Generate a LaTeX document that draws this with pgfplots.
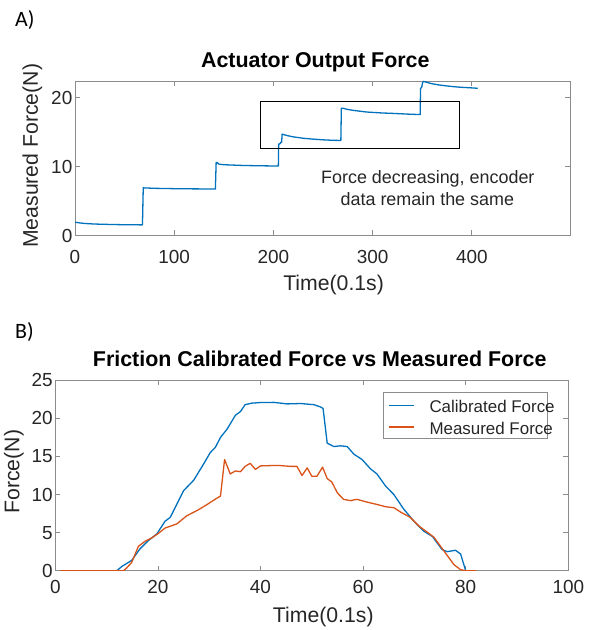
\documentclass[border=0pt]{standalone}
\usepackage{fontspec}
\setmainfont{Liberation Sans}
\newfontfamily\carlito{Carlito}
\usepackage{pgfplots}
\pgfplotsset{compat=1.18}
\definecolor{mblue}{rgb}{0,0.447,0.741}
\definecolor{morange}{rgb}{0.85,0.325,0.098}
\definecolor{axgray}{gray}{0.55}
\definecolor{txt}{gray}{0.15}
\begin{document}
\begin{tikzpicture}
\path[use as bounding box] (0,0) rectangle (590bp,630bp);
\pgfplotsset{
  common/.style={
    scale only axis,
    axis line style={axgray, line width=0.8bp},
    tick align=inside,
    xtick pos=both, ytick pos=both,
    major tick length=5bp,
    every tick/.style={axgray, line width=0.8bp},
    /pgf/number format/assume math mode=true,
    tick label style={font=\fontsize{19}{22}\selectfont, text=txt, inner sep=0pt},
    yticklabel style={anchor=east, xshift=-2.5bp},
    label style={font=\fontsize{21.3}{24}\selectfont, text=txt},
    title style={font=\bfseries\fontsize{21.5}{24}\selectfont, anchor=base, yshift=7.5bp},
  }
}
\node[anchor=base west, inner sep=0pt, font=\carlito\fontsize{22}{24}\selectfont] at (15bp,603.3bp) {A)};
\node[anchor=base west, inner sep=0pt, font=\carlito\fontsize{22}{24}\selectfont] at (15bp,291.7bp) {B)};

\begin{axis}[common,
  at={(75bp,394.5bp)}, anchor=south west,
  width=495bp, height=154.5bp,
  xmin=0, xmax=499, ymin=0, ymax=22.4,
  xtick={0,100,200,300,400}, ytick={0,10,20},
  xticklabel style={anchor=north, yshift=-15bp},
  title={Actuator Output Force},
  title style={at={(axis description cs:0.4855,1)}},
  xlabel={Time(0.1s)},
  xlabel style={at={(axis description cs:0.5224,0)}, anchor=base, yshift=-55bp},
  ylabel={Measured Force(N)},
  ylabel style={at={(axis description cs:-0.0863,0.516)}, anchor=center},
]
\addplot[mblue, line width=1.3bp, line join=round] coordinates {
(0,1.93) (5,1.82) (10,1.74) (20,1.66) (35,1.60) (50,1.56) (68,1.54)
(68.8,6.94) (70,6.9) (80,6.84) (100,6.79) (120,6.76) (141.5,6.74)
(142.3,10.6) (143.5,10.55) (145,10.35) (150,10.26) (170,10.15) (190,10.1) (205,10.07)
(205.3,13.25) (206.7,13.3) (207.3,13.5) (208.3,13.5) (208.8,14.7) (211,14.6) (215,14.45) (220,14.3) (230,14.1) (240,13.97) (250,13.87) (260,13.8) (268,13.78)
(268.5,18.45) (270,18.45) (274,18.3) (280,18.15) (294,17.9) (310,17.76) (321,17.7) (335,17.6) (348,17.53)
(348.3,21.3) (349.5,21.5) (350.5,22.2) (351.5,22.35) (354,22.22) (360,22.0) (368,21.8) (380,21.6) (388,21.5) (400,21.4) (406,21.34)
};
\draw[black, line width=1.2bp] (axis cs:186.7,12.63) rectangle (axis cs:387.5,19.42);
\node[anchor=base, inner sep=0pt, text=txt, font=\fontsize{18}{21}\selectfont] at (axis cs:355.7,7.47) {Force decreasing, encoder};
\node[anchor=base, inner sep=0pt, text=txt, font=\fontsize{18}{21}\selectfont] at (axis cs:355.2,4.34) {data remain the same};
\end{axis}

\begin{axis}[common,
  at={(55.3bp,59.3bp)}, anchor=south west,
  width=513bp, height=190.4bp,
  xmin=0, xmax=100, ymin=0, ymax=25,
  xtick={0,20,40,60,80,100}, ytick={0,5,10,15,20,25},
  xticklabel style={anchor=north, yshift=-9.3bp},
  title={Friction Calibrated Force vs Measured Force},
  title style={at={(axis description cs:0.5154,1)}},
  xlabel={Time(0.1s)},
  xlabel style={at={(axis description cs:0.5224,0)}, anchor=base, yshift=-51.3bp},
  ylabel={Force(N)},
  ylabel style={at={(axis description cs:-0.0805,0.52)}, anchor=center},
  legend style={at={(axis description cs:0.6384,0.937)}, anchor=north west,
    draw=axgray, line width=0.8bp, fill=white, inner xsep=5.6bp, inner ysep=2bp,
    font=\fontsize{17}{20}\selectfont, row sep=2bp, column sep=14.4bp,
    nodes={inner sep=0pt, text height=18bp, text depth=1.7bp, text=txt}},
  legend cell align=left,
  legend image code/.code={\draw[#1, line width=1.3bp] (0bp,-0.8bp) -- (25bp,-0.8bp);},
]
\addplot[mblue, line width=1.3bp, line join=round] coordinates {
(1,0) (12,0) (13,0.57) (14.9,1.36) (16.5,2.86) (18,3.87) (19.8,4.84) (21.4,6.5) (22.4,7.0) (25,10.5) (27,11.9) (28.9,14.0) (30.2,15.5) (31.2,16.2) (32.2,17.5) (33.5,18.6) (35.1,20.4) (36.1,20.9) (37,21.8) (38.3,22.0) (40,22.08) (42.6,22.1) (45.2,21.9) (47.8,21.95) (50.4,21.8) (51.7,21.5) (52.2,21.3) (53,16.75) (54.3,16.3) (55.6,16.4) (56.9,16.3) (58.2,15.3) (59.8,14.6) (61.4,13.4) (62.7,12.7) (64.4,11.1) (66,10.0) (67.9,8.1) (69.9,6.5) (71.8,5.2) (73.5,4.5) (75.4,2.77) (76.4,2.5) (78,2.68) (79,2.2) (80,0)
};
\addlegendentry{\makebox[112.4bp][l]{Calibrated Force}}
\addplot[morange, line width=1.3bp, line join=round] coordinates {
(1,0) (13.3,0) (13.9,0.35) (14.9,1.1) (16.2,3.2) (17.5,3.87) (18.8,4.3) (20.1,4.9) (21.4,5.6) (23.7,6.15) (25.6,7.2) (27.9,8.0) (29.6,8.7) (31.2,9.4) (32.2,9.8) (33,14.6) (34.1,12.7) (35.1,13.1) (36.1,13.0) (37,13.7) (38,14.1) (39,13.3) (40,13.76) (41.9,13.8) (43.9,13.8) (45.8,13.7) (47.1,13.7) (48.1,12.5) (49.1,13.5) (50,12.4) (51,12.4) (52.1,13.6) (53,12.1) (53.9,11.65) (55,10.2) (56.2,9.37) (57.5,9.2) (58.8,9.37) (60.8,9.0) (62.7,8.7) (64.4,8.4) (66,8.27) (67.3,7.7) (69.2,7.0) (70.9,5.85) (72.5,5.06) (73.8,4.4) (75.1,3.2) (76.4,2.0) (77.7,0.8) (79,0.13) (80,0) (82,0)
};
\addlegendentry{\makebox[112.4bp][l]{Measured Force}}
\end{axis}
\end{tikzpicture}
\end{document}
